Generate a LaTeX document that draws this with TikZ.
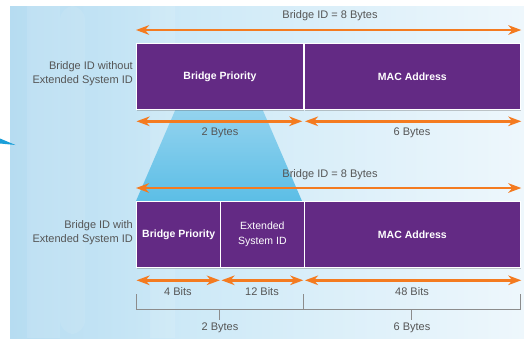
\documentclass[tikz,border=0pt]{standalone}
\usepackage{fontspec}
\setmainfont{Liberation Sans}
\usetikzlibrary{arrows.meta,shadows}
\definecolor{purp}{HTML}{632A84}
\definecolor{orng}{HTML}{F47B20}
\definecolor{txt}{HTML}{555555}
\definecolor{bgL}{HTML}{B6DCF1}
\definecolor{bgM}{HTML}{CDE9F7}
\definecolor{bgR}{HTML}{EEF7FC}
\definecolor{trT}{HTML}{96D4EF}
\definecolor{trB}{HTML}{5CBEE6}
\definecolor{brk}{HTML}{8C8C8C}
\definecolor{ptr}{HTML}{1A9FD9}
\pgfdeclarehorizontalshading{bgsh}{100bp}{color(0bp)=(bgL); color(25bp)=(bgL); color(42bp)=(bgM); color(75bp)=(bgR); color(100bp)=(bgR)}
\begin{document}
\begin{tikzpicture}[x=1pt,y=-1pt,
 field/.style={draw=white, line width=1.3pt, fill=purp, text=white, inner sep=0pt, anchor=north west,
   font=\fontsize{10.5}{15}\selectfont\bfseries,
   drop shadow={shadow xshift=0.6pt,shadow yshift=-0.9pt,opacity=0.35,fill=black!60}},
 lbl/.style={text=txt, font=\fontsize{11}{14}\selectfont, inner sep=0pt},
 dim/.style={draw=orng, line width=2.6pt,
   {Stealth[length=13pt,width=9.5pt,inset=4pt]}-{Stealth[length=13pt,width=9.5pt,inset=4pt]}},
 brace/.style={draw=brk, line width=0.9pt}]
\useasboundingbox (0,0) rectangle (524,338);
% background
\fill[white] (0,0) rectangle (524,338);
\shade[shading=bgsh] (10,6) rectangle (524,338);
\fill[white,opacity=0.10] (27,6) rectangle (60,338);
\fill[white,opacity=0.08,rounded corners=14pt] (60,6) rectangle (85,334);
\fill[white,opacity=0.10] (150,6) rectangle (175,338);
\fill[ptr] (0,138.5) -- (15.5,145) -- (0,143.5) -- cycle;
% trapezoid
\shade[top color=trT, bottom color=trB] (177,106) -- (261,106) -- (302,201) -- (136,201) -- cycle;
% top row
\node[field, minimum width=166.5pt, minimum height=66pt] (bp1) at (136,43) {Bridge Priority};
\node[field, minimum width=216.5pt, minimum height=66pt] (mac1) at (303.5,43) {MAC Address};
\node[lbl] (t1) at (330,16) {Bridge ID = 8 Bytes};
\draw[dim] ([yshift=13pt]bp1.north west) -- ([yshift=13pt]mac1.north east);
\draw[dim] ([xshift=0.5pt,yshift=-11pt]bp1.south west) -- ([xshift=-1.5pt,yshift=-11pt]bp1.south east);
\draw[dim] ([xshift=1.5pt,yshift=-11pt]mac1.south west) -- ([yshift=-11pt]mac1.south east);
\node[lbl] (b1) at (220,133) {2 Bytes};
\node[lbl] (b2) at (412,133) {6 Bytes};
\node[lbl, anchor=east, align=right] (lab1) at (133,74) {Bridge ID without\\Extended System ID};
% bottom row
\node[field, minimum width=84pt, minimum height=66pt] (bp2) at (136,201) {Bridge Priority};
\node[field, minimum width=83.5pt, minimum height=66pt, align=center, font=\fontsize{10.5}{15}\selectfont\mdseries] (ext) at (220,201) {Extended\\System ID};
\node[field, minimum width=216.5pt, minimum height=66pt] (mac2) at (303.5,201) {MAC Address};
\node[lbl] (t2) at (330,175) {Bridge ID = 8 Bytes};
\draw[dim] ([yshift=13pt]bp2.north west) -- ([yshift=13pt]mac2.north east);
\draw[dim] ([xshift=0.5pt,yshift=-12pt]bp2.south west) -- ([xshift=-1.5pt,yshift=-12pt]bp2.south east);
\draw[dim] ([xshift=1.5pt,yshift=-12pt]ext.south west) -- ([xshift=-1.5pt,yshift=-12pt]ext.south east);
\draw[dim] ([xshift=1.5pt,yshift=-12pt]mac2.south west) -- ([yshift=-12pt]mac2.south east);
\node[lbl] (c1) at (178,292) {4 Bits};
\node[lbl] (c2) at (262,292) {12 Bits};
\node[lbl] (c3) at (412,292) {48 Bits};
\node[lbl, anchor=east, align=right] (lab2) at (133,233) {Bridge ID with\\Extended System ID};
% brackets
\coordinate (kL) at (136,294);
\coordinate (kLb) at (136,309);
\coordinate (kM) at (303.5,294);
\coordinate (kMb) at (303.5,309);
\coordinate (kR) at (520,294);
\coordinate (kRb) at (520,309);
\coordinate (k1) at (219.75,309);
\coordinate (k1b) at (219.75,320);
\coordinate (k2) at (411.75,309);
\coordinate (k2b) at (411.75,320);
\draw[brace] (kL) -- (kLb) -- (kRb) -- (kR);
\draw[brace] (kM) -- (kMb);
\draw[brace] (k1) -- (k1b);
\draw[brace] (k2) -- (k2b);
\node[lbl] (d1) at (220,328) {2 Bytes};
\node[lbl] (d2) at (412,328) {6 Bytes};
\end{tikzpicture}
\end{document}
